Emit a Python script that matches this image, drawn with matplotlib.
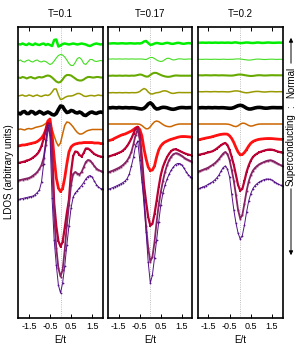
import numpy as np
import matplotlib
matplotlib.use("Agg")
import matplotlib.pyplot as plt

plt.rcParams['font.family'] = ['Liberation Sans', 'DejaVu Sans']

# ---------------- data ----------------
energy = np.round(np.linspace(-2.0, 2.0, 41), 2)
temperatures = ["T=0.1", "T=0.17", "T=0.2"]
xticks = [-1.5, -0.5, 0.5, 1.5]
xticklabels = ["-1.5", "-0.5", "0.5", "1.5"]
# values are LDOS in arbitrary (stacked, downward-growing) units

# T = 0.1
g1_1 = [44,44.5,43.5,44.5,45,43.5,44.5,45,43.5,44.5, 45,44,43.5,45,44,45,46,40,39.5,46.5,
        45.5,44,43.5,44,44.5,44,43.5,44,44.5,44, 43.5,44,44.5,45.5,46,45,44,43.5,44,44.5, 44]
g2_1 = [61,60,61.5,62,60.5,60,61.5,62,60.5,60, 61.5,62,61,61.5,63,64.5,63.5,61,58,55.5,
        54.5,55,57,60,63.5,65.5,65.5,62.5,58.5,57.5, 59.5,63.5,64.5,62,59.5,59.5,61,61.5,61,60.5, 61]
yg_1 = [77.5,78,77,77.5,78.5,77.5,77,78,78.5,77.5, 77,77.5,77,76,75.5,76,77.5,79.5,81.5,82.5,
        82,79.5,76.5,75,75,75.5,77,78.5,80,80.5, 80.5,79.5,78,77,77,77.5,77.5,77,77,77.5, 77.5]
ol_1 = [96,95.5,95,96,96,95,95.5,96.5,95.5,95, 96,96.5,95.5,95,95.5,94.5,92,89,89,95,
        99.5,99,97.5,96.5,96,96,95.5,94.5,93.5,93.5, 94.5,96,96.5,96,95.5,95.5,96,95.5,95,95.5, 95.5]
bk_1 = [113,114,112,111.5,113.5,113.5,111.5,112,114,113, 111.5,112.5,114,113,112,113,114.5,115,113.5,109.5,
        106,106.5,110,112.5,112,110.5,111,112.5,113,112, 113,115,115.5,114,112.5,112,113,113.5,112.5,112, 112.5]
or_1 = [129.5,129,129.5,130,129,128.5,129,128.5,127.5,127, 126.5,126,125,123.5,121.5,122.5,129,136,142,146,
        143,134,125.5,122,122.5,124.5,127,130,132.5,134, 134,133,131.5,130.5,130,129.5,129.5,129.5,129.5,129.5, 129.5]
rd_1 = [146,145.5,145,145,144.5,144,143.5,143,142.5,141.5, 140,138,135,130,121,119,134,158,178,188,
        191.5,188.5,178,164,152,147,145,144,143.5,143, 143,142.5,142.5,142.5,142.5,142.5,143,143,143,143.5, 143.5]
dr_1 = [163,162.5,162,161.5,160.5,160,159,157.5,156,154, 151,146,139,130,123,124,150,203,226,241,
        246.5,242,228,213,200,172,156,151.5,152,155, 156.5,153,148.5,148.5,150,152,154,155,156,156.5, 157]
pl_1 = [180.5,180,179.5,179,178.5,178,177,175.5,174,172, 169,165,158,145,130,125,160,215,248,268,
        276.5,270,250,225,205,185,174,172,173.5,174.5, 172,167,162,160,160.5,163,166,168.5,170,171, 172]
pu_1 = [199.5,199,198.5,198,197.5,197,196.5,196,194.5,192.5, 190,182,164,140,125,135,198,240,265,285,
        293,283,266,245,226,208,197,193,190.5,188, 185.5,182.5,179,176.5,175.5,177,181,184.5,187,188.5, 189]

# T = 0.17
g1_2 = [43.5,43.5,43.3,43.3,43.5,43.5,43.3,43.3,43.5,43.5, 43.3,43.3,43.5,43.5,43.3,43.5,43,41.5,41,43,
        44.8,44.5,43.5,43,43.3,43.8,43.8,43.2,42.8,43.2, 43.8,43.8,43.3,42.8,43,43.6,43.8,43.4,43.1,43.3, 43.5]
g2_2 = [59,59.1,58.9,59,59.1,58.9,59,59.1,58.9,59, 59.1,58.9,59,59.1,59,59,59,59.3,59.5,58.5,
        57.5,57.5,58.5,60,61,61.5,61,59.5,58.3,58.3, 59.3,60,59.7,59,58.8,59,59.3,59.2,59,59, 59]
yg_2 = [75.7,75.8,75.6,75.7,75.8,75.6,75.7,75.8,75.6,75.7, 75.8,75.6,75.7,75.5,75,74.5,74.8,75.8,76.6,76.5,
        75,73.5,72.8,73,74,75,75.8,76.4,76.8,76.8, 76.4,75.8,75.5,75.5,75.7,75.7,75.7,75.7,75.7,75.7, 75.7]
ol_2 = [92.7,92.8,92.6,92.7,92.8,92.6,92.7,92.8,92.6,92.7, 92.8,92.6,92.7,92.7,92.4,91.5,89.8,88.5,89.5,92,
        93.8,94,93.3,92.7,92.5,91.8,91,90.8,91.3,92.3, 93.2,93.4,93,92.6,92.5,92.6,92.6,92.6,92.6,92.6, 92.6]
bk_2 = [107.7,107.9,107.5,107.7,107.9,107.5,107.7,107.9,107.6,107.7, 107.9,107.7,107.8,108,108.4,108.8,109,108.3,106.5,104,
        102.8,104.5,107.5,109,108.7,107.8,107.3,107.4,107.8,108.5, 109.1,109.3,108.9,108.2,107.7,107.5,107.6,107.8,107.7,107.6, 107.6]
or_2 = [124,124,124,124,124,124,124,124,124,124, 124,124,124,124,124,124.3,125.5,127.3,128.8,128.7,
        126.8,124,121.8,121,121.6,123,124.5,125.7,126.4,126.7, 126.5,125.6,124.8,124.3,124,124,124,124,124,124, 124]
rd_2 = [140.7,140.2,139.5,138.3,137.3,136.3,135.3,134.5,134,133, 132,131,129.5,128,127,129.5,136,149,159,167,
        170.5,170,166,157,150,146,143.5,142,141,140, 139.3,138.6,138,137.3,136.8,136.5,136.5,136.6,136.8,137, 137.3]
dr_2 = [156.7,156,155.3,154.5,153.7,152.8,152,150.5,148.5,146, 142.5,138.5,133.5,128.5,127,135,158,185,202,217,
        225.5,224,214,201,187,175,167,161.5,157,153.5, 151,149.5,149.3,150,151,152,153,153.8,154.5,155, 155.5]
pl_2 = [172.3,171.5,170.7,169.8,168.8,167.8,166.5,165,163,160.5, 157,152,144,135,129,140,168,200,226,248,
        261.5,257,242,222,205,192,181,172,165,160, 156.5,154.3,153.3,153.5,154.5,156,157.5,159,160,161, 161.7]
pu_2 = [189.3,188.5,187.7,186.8,185.8,184.8,183.7,182.5,181,178.5, 174,166,157,145.5,141,160,182,200,232,262,
        283,275,258,240,222,205,193,185,179,174, 170,167,164.5,163.5,163.5,165,168,171.5,174.5,176.5, 178.3]

# T = 0.2
g1_3 = [42.7,42.8,42.6,42.7,42.8,42.6,42.7,42.8,42.6,42.7, 42.8,42.6,42.7,42.8,42.6,42.7,42.9,42.5,42.4,42.8,
        43.1,43.0,42.7,42.5,42.6,42.9,43.0,42.8,42.5,42.6, 42.9,42.9,42.7,42.5,42.6,42.8,42.8,42.7,42.6,42.7, 42.7]
g2_3 = [59.3,59.3,59.4,59.3,59.2,59.3,59.4,59.3,59.2,59.3, 59.4,59.3,59.2,59.3,59.4,59.3,59.3,59.2,59.0,58.9,
        59.0,59.3,59.6,59.9,60.1,60.0,59.7,59.3,59.1,59.1, 59.3,59.5,59.5,59.3,59.2,59.2,59.3,59.4,59.3,59.3, 59.3]
yg_3 = [75.3,75.3,75.4,75.3,75.2,75.3,75.4,75.3,75.2,75.3, 75.4,75.3,75.3,75.4,75.5,75.6,75.6,75.4,75.0,74.6,
        74.5,74.7,75.1,75.5,75.8,76.0,75.9,75.6,75.3,75.2, 75.3,75.5,75.5,75.4,75.3,75.2,75.3,75.3,75.3,75.3, 75.3]
ol_3 = [91.7,91.7,91.8,91.7,91.6,91.7,91.8,91.7,91.6,91.7, 91.8,91.7,91.7,91.8,91.9,91.8,91.5,91.1,90.9,91.0,
        91.5,92.1,92.6,92.8,92.6,92.2,91.8,91.5,91.4,91.5, 91.8,92.0,92.0,91.8,91.6,91.6,91.7,91.8,91.7,91.7, 91.7]
bk_3 = [107.7,107.8,107.6,107.7,107.8,107.6,107.7,107.8,107.6,107.7, 107.8,107.7,107.7,107.9,108.1,108.3,108.2,107.6,106.6,105.7,
        105.3,105.7,106.9,108.2,109.0,109.0,108.5,107.9,107.5,107.4, 107.6,108.0,108.2,108.1,107.8,107.6,107.6,107.7,107.7,107.7, 107.7]
or_3 = [124,124,124,124,124,124,124,124,124,124, 124,124,124,124,124.1,124.5,125.3,126.2,126.6,125.8,
        124.2,123.2,123.3,124.3,125.5,126.1,125.8,125.0,124.4,124.1, 124,124,124,124,124,124,124,124,124,124, 124]
rd_3 = [140,139.5,139,138.5,138,137.6,137.2,136.6,136,135.4, 134.8,134.4,134.1,134,134.2,135.8,138.5,142.5,147.5,152,
        154.8,154.5,152.5,149.5,146,143.2,141.5,140.5,139.8,139.3, 139,138.8,138.6,138.5,138.5,138.6,138.8,139,139.2,139.3, 139.4]
dr_3 = [155,154.6,154.1,153.6,153,152.4,151.9,151.2,150,148.5, 146.8,145.2,143.8,143,145,150,157,165,175,185,
        190.5,189,181,172,165.5,160.5,157,155,153.5,152.3, 151.5,150.8,150.2,149.7,149.5,149.7,150.3,151,151.7,152.3, 152.8]
pl_3 = [171.7,171,170.2,169.4,168.5,167.5,166.3,164.8,163.3,161.3, 159,156.2,153.5,152,154,160,170,181,195,210,
        218.5,215,203.5,191,181.5,175,170.5,167.8,165.8,164.3, 163.2,162.2,161.3,160.6,160.3,160.6,161.5,162.8,164,165.2, 166.2]
pu_3 = [189,188.2,187.4,186.5,185.5,184.4,183.2,181.8,180,177.8, 175,171,167.5,166,169,177,194,210,223,233,
        239,235.5,225,212,201,193.5,188.5,185.5,183.5,182, 180.8,179.8,179.2,179,179.3,180.2,181.5,183,184.2,185.2, 186]

panels = [
    [g1_1, g2_1, yg_1, ol_1, bk_1, or_1, rd_1, dr_1, pl_1, pu_1],
    [g1_2, g2_2, yg_2, ol_2, bk_2, or_2, rd_2, dr_2, pl_2, pu_2],
    [g1_3, g2_3, yg_3, ol_3, bk_3, or_3, rd_3, dr_3, pl_3, pu_3],
]

# ---------------- styles ----------------
styles = [
    dict(color='#00ee00', lw=1.8),
    dict(color='#44dd22', lw=0.8),
    dict(color='#66aa00', lw=1.5),
    dict(color='#999900', lw=1.1),
    dict(color='#000000', lw=2.6),
    dict(color='#cc6600', lw=1.1),
    dict(color='#ff1111', lw=2.0, marker='s', ms=2.0, mew=0),
    dict(color='#bb0033', lw=1.6, marker='s', ms=1.6, mew=0),
    dict(color='#882266', lw=1.3, marker='s', ms=1.3, mew=0),
    dict(color='#551188', lw=0.7, marker='o', ms=1.3, mew=0),
]

W, H = 299, 346
fig = plt.figure(figsize=(W / 100, H / 100), dpi=100)
axes_px = [(18.3, 102.7), (108.3, 192.3), (197.7, 282.7)]
top_px, bot_px = 27, 318

for k, (x0, x1) in enumerate(axes_px):
    ax = fig.add_axes([x0 / W, (H - bot_px) / H, (x1 - x0) / W, (bot_px - top_px) / H])
    ax.axvline(0, color='#aaaaaa', lw=0.6, ls=':', zorder=0)
    for vals, st in zip(panels[k], styles):
        ax.plot(energy, vals, solid_joinstyle='round', solid_capstyle='round', **st)
    ax.set_xlim(-2.0, 2.0)
    ax.set_ylim(bot_px, top_px)
    ax.set_yticks([])
    ax.set_xticks(xticks)
    ax.set_xticklabels(xticklabels)
    ax.tick_params(axis='x', direction='in', top=True, length=3, width=0.7,
                   labelsize=6.5, pad=3)
    for sp in ax.spines.values():
        sp.set_linewidth(1.2)
    ax.set_title(temperatures[k], fontsize=7, pad=7)
    ax.set_xlabel("E/t", fontsize=7, labelpad=3)

fig.text(9 / W, 1 - 172 / H, "LDOS (arbitrary units)", rotation=90,
         ha='center', va='center', fontsize=7)

ax_x = 291 / W
fig.text(ax_x, 1 - 82 / H, "Normal", rotation=90, ha='center', va='center', fontsize=7)
fig.text(ax_x, 1 - 107 / H, ":", rotation=90, ha='center', va='center', fontsize=7)
fig.text(ax_x, 1 - 150 / H, "Superconducting", rotation=90, ha='center', va='center', fontsize=7)
fig.add_artist(matplotlib.patches.FancyArrowPatch(
    (ax_x, 1 - 66 / H), (ax_x, 1 - 35 / H), transform=fig.transFigure,
    arrowstyle='-|>', mutation_scale=6, lw=0.7, color='black'))
fig.add_artist(matplotlib.patches.FancyArrowPatch(
    (ax_x, 1 - 186 / H), (ax_x, 1 - 258 / H), transform=fig.transFigure,
    arrowstyle='-|>', mutation_scale=6, lw=0.7, color='black'))

fig.savefig("out.png", dpi=100)
